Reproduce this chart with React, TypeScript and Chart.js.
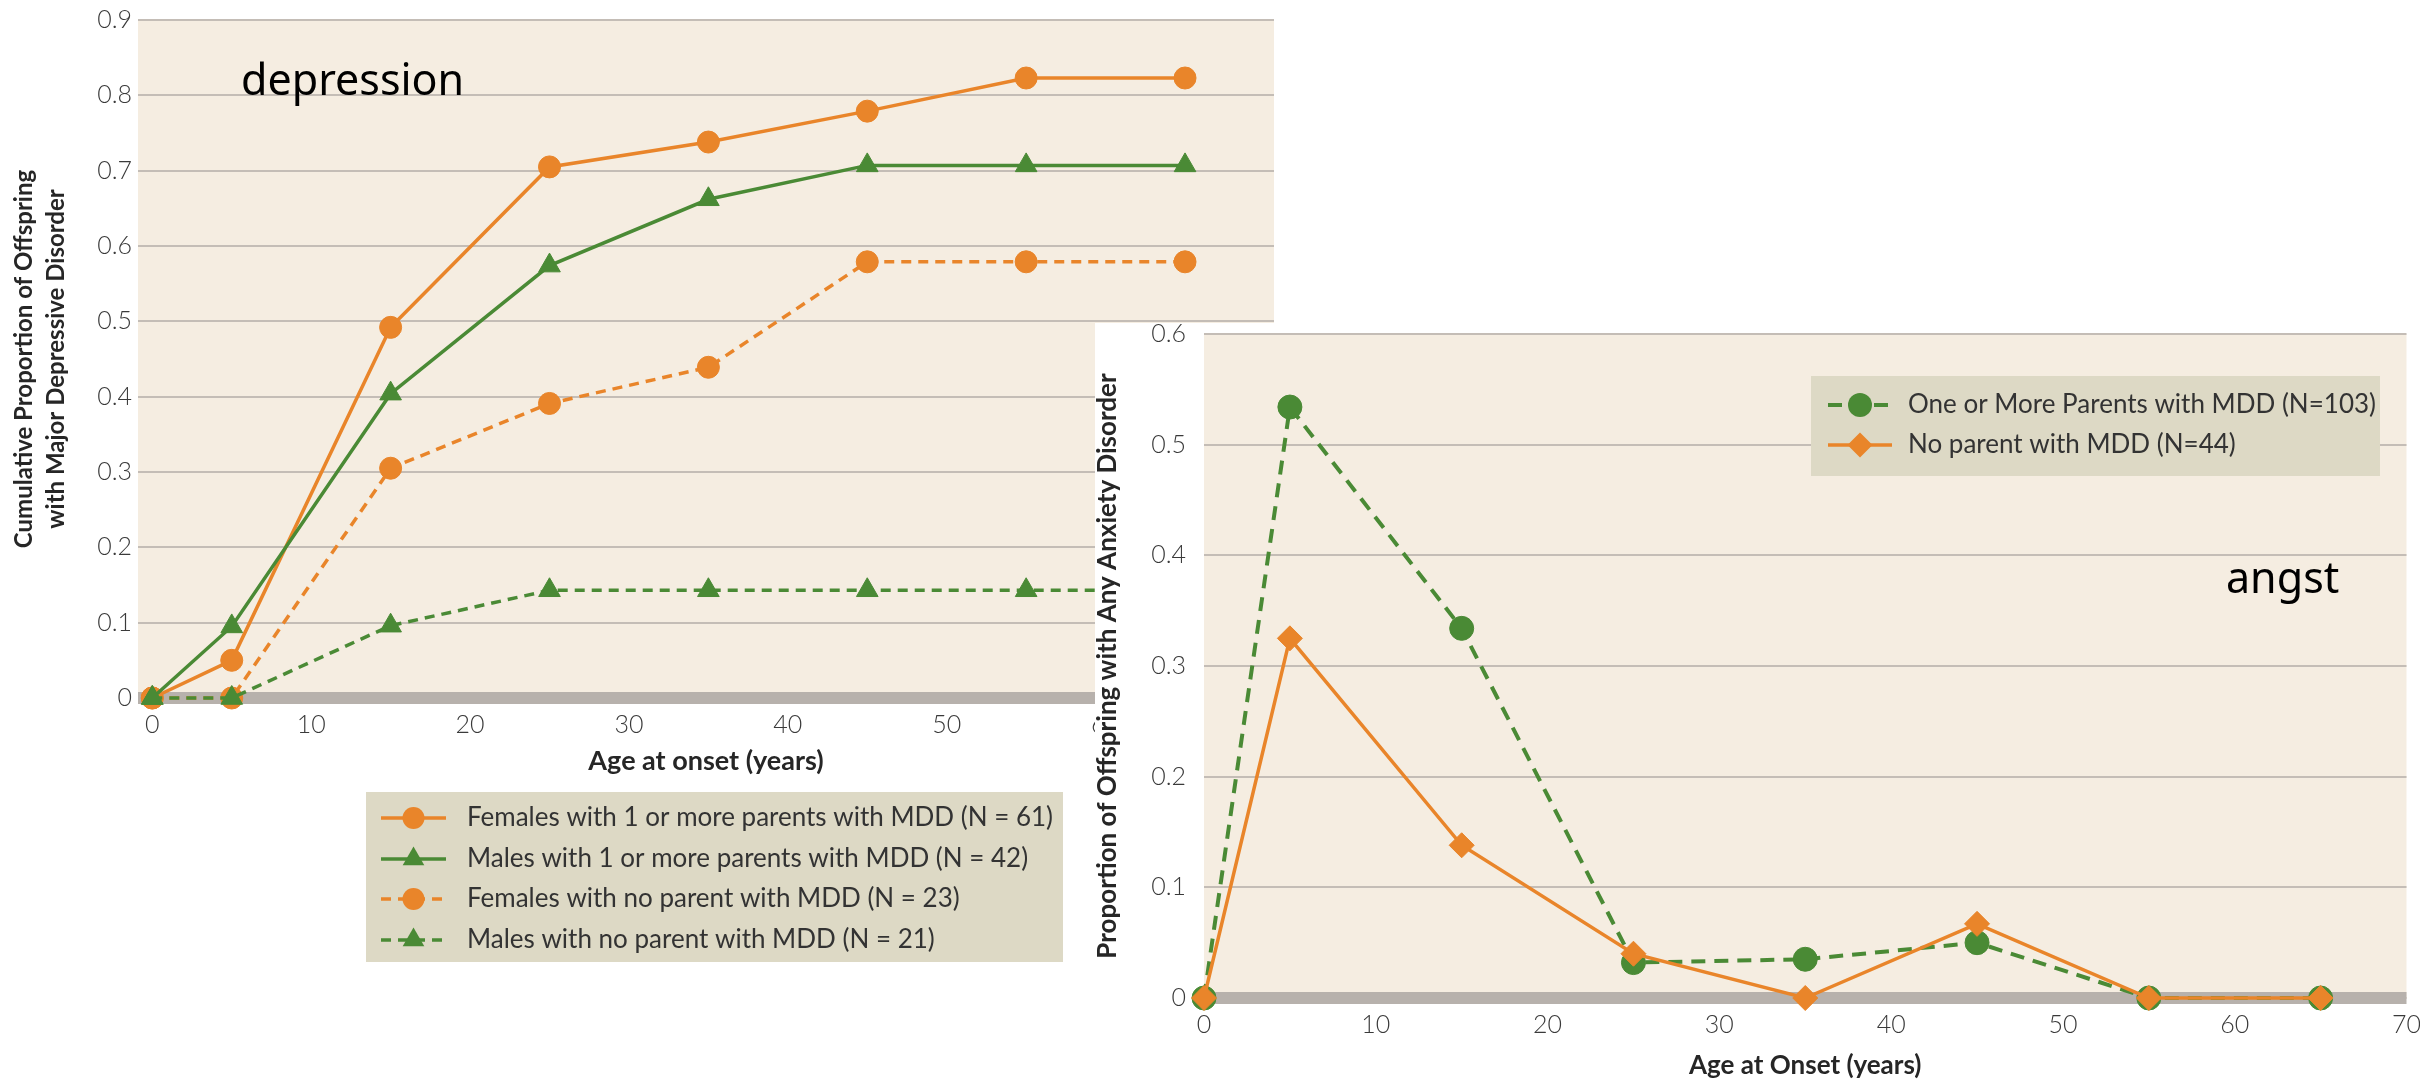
import React, { useEffect, useRef } from 'react';
import { Chart, registerables } from 'chart.js';

Chart.register(...registerables);

// ---------- Left chart data (depression) ----------
const LEFT_AGES = [0, 5, 15, 25, 35, 45, 55, 65];
const FEMALES_PARENT_MDD = [0, 0.05, 0.492, 0.705, 0.738, 0.779, 0.823, 0.823];
const MALES_PARENT_MDD = [0, 0.095, 0.404, 0.574, 0.662, 0.707, 0.707, 0.707];
const FEMALES_NO_PARENT = [0, 0, 0.305, 0.391, 0.439, 0.579, 0.579, 0.579];
const MALES_NO_PARENT = [0, 0, 0.096, 0.143, 0.143, 0.143, 0.143, 0.143];
const LEFT_SERIES_LABELS = [
  'Females with 1 or more parents with MDD (N = 61)',
  'Males with 1 or more parents with MDD (N = 42)',
  'Females with no parent with MDD (N = 23)',
  'Males with no parent with MDD (N = 21)',
];
const LEFT_X_TICKS = [0, 10, 20, 30, 40, 50, 60, 70];
const LEFT_Y_TICKS = [0, 0.1, 0.2, 0.3, 0.4, 0.5, 0.6, 0.7, 0.8, 0.9];
const LEFT_X_TITLE = 'Age at onset (years)';
const LEFT_Y_TITLE = ['Cumulative Proportion of Offspring', 'with Major Depressive Disorder'];
const LEFT_NOTE = 'depression';

// ---------- Right chart data (anxiety) ----------
const RIGHT_AGES = [0, 5, 15, 25, 35, 45, 55, 65];
const ANXIETY_PARENT_MDD = [0, 0.534, 0.334, 0.032, 0.035, 0.05, 0, 0];
const ANXIETY_NO_PARENT = [0, 0.325, 0.138, 0.04, 0, 0.067, 0, 0];
const RIGHT_SERIES_LABELS = ['One or More Parents with MDD (N=103)', 'No parent with MDD (N=44)'];
const RIGHT_X_TICKS = [0, 10, 20, 30, 40, 50, 60, 70];
const RIGHT_Y_TICKS = [0, 0.1, 0.2, 0.3, 0.4, 0.5, 0.6];
const RIGHT_X_TITLE = 'Age at Onset (years)';
const RIGHT_Y_TITLE = 'Proportion of Offspring with Any Anxiety Disorder';
const RIGHT_NOTE = 'angst';

// ---------- styles ----------
const ORANGE = '#E9852A';
const GREEN = '#4A8A35';
const PLOT_BG = '#F5EDE1';
const LEGEND_BG = '#DDD9C5';
const GRID = '#C4BDB6';
const BAND = '#B7B1AC';
const TICK_COLOR = '#3a3a3a';
const TITLE_COLOR = '#262626';

const pts = (xs: number[], ys: number[]) => xs.map((x, i) => ({ x, y: ys[i] }));
const fmt = (v: number) => (v === 0 ? '0' : v.toFixed(1));

function drawMarker(ctx: CanvasRenderingContext2D, style: string, x: number, y: number, r: number) {
  ctx.beginPath();
  if (style === 'triangle') {
    let a = 0;
    ctx.moveTo(x + Math.sin(a) * r, y - Math.cos(a) * r);
    a += (2 * Math.PI) / 3;
    ctx.lineTo(x + Math.sin(a) * r, y - Math.cos(a) * r);
    a += (2 * Math.PI) / 3;
    ctx.lineTo(x + Math.sin(a) * r, y - Math.cos(a) * r);
  } else if (style === 'rectRot') {
    ctx.moveTo(x - r, y);
    ctx.lineTo(x, y - r);
    ctx.lineTo(x + r, y);
    ctx.lineTo(x, y + r);
  } else {
    ctx.arc(x, y, r, 0, Math.PI * 2);
  }
  ctx.closePath();
  ctx.fill();
}

type LegendCfg = {
  x: number; y: number; w: number; h: number;
  rows: number[]; lineX0: number; lineX1: number; textX: number;
  font: string; color: string;
};

function makePlugins(legend: LegendCfg, note: { text: string; x: number; y: number; font: string }) {
  return [
    {
      id: 'plotBackground',
      beforeDraw(chart: any) {
        const { ctx, chartArea: a } = chart;
        ctx.save();
        ctx.fillStyle = PLOT_BG;
        ctx.fillRect(a.left, a.top, a.right - a.left, a.bottom - a.top);
        ctx.restore();
      },
    },
    {
      id: 'zeroBand',
      beforeDatasetsDraw(chart: any) {
        const { ctx, chartArea: a } = chart;
        const y0 = chart.scales.y.getPixelForValue(0);
        ctx.save();
        ctx.fillStyle = BAND;
        ctx.fillRect(a.left, y0 - 6, a.right - a.left, 12);
        ctx.restore();
      },
    },
    {
      id: 'boxLegend',
      afterDraw(chart: any) {
        const ctx: CanvasRenderingContext2D = chart.ctx;
        ctx.save();
        ctx.fillStyle = LEGEND_BG;
        ctx.fillRect(legend.x, legend.y, legend.w, legend.h);
        chart.data.datasets.forEach((ds: any, i: number) => {
          const yy = legend.rows[i];
          ctx.strokeStyle = ds.borderColor;
          ctx.lineWidth = ds.borderWidth;
          ctx.setLineDash(ds.borderDash || []);
          ctx.beginPath();
          ctx.moveTo(legend.lineX0, yy);
          ctx.lineTo(legend.lineX1, yy);
          ctx.stroke();
          ctx.setLineDash([]);
          ctx.fillStyle = ds.pointBackgroundColor;
          drawMarker(ctx, ds.pointStyle, (legend.lineX0 + legend.lineX1) / 2, yy, ds.pointRadius);
          ctx.fillStyle = legend.color;
          ctx.font = legend.font;
          ctx.textAlign = 'left';
          ctx.textBaseline = 'middle';
          ctx.fillText(ds.label, legend.textX, yy);
        });
        ctx.restore();
      },
    },
    {
      id: 'noteText',
      afterDraw(chart: any) {
        const ctx: CanvasRenderingContext2D = chart.ctx;
        ctx.save();
        ctx.fillStyle = '#000';
        ctx.font = note.font;
        ctx.textAlign = 'left';
        ctx.textBaseline = 'alphabetic';
        ctx.fillText(note.text, note.x, note.y);
        ctx.restore();
      },
    },
  ];
}

const tickFont = { family: 'Lato', size: 25, weight: '300' as any };
const leftXTitleFont = { family: 'Lato', size: 27, weight: 'bold' as any, lineHeight: 1.2 };
const rightXTitleFont = { family: 'Lato', size: 26, weight: 'bold' as any, lineHeight: 1.2 };
const leftYTitleFont = { family: 'Lato', size: 24, weight: 'bold' as any, lineHeight: 1.3 };
const rightYTitleFont = { family: 'Lato', size: 26, weight: 'bold' as any, lineHeight: 1.2 };

export default function App() {
  const leftRef = useRef<HTMLCanvasElement>(null);
  const rightRef = useRef<HTMLCanvasElement>(null);

  useEffect(() => {
    document.body.style.margin = '0';
    const line = (label: string, data: number[], xs: number[], color: string, dashed: boolean, style: string, r: number, order: number, dash: number[], width: number) => ({
      label,
      data: pts(xs, data),
      borderColor: color,
      backgroundColor: color,
      borderWidth: width,
      borderDash: dashed ? dash : [],
      pointStyle: style,
      pointRadius: r,
      pointBackgroundColor: color,
      pointBorderColor: color,
      pointBorderWidth: 1,
      tension: 0,
      clip: false,
      order,
    });

    const left = new Chart(leftRef.current!, {
      type: 'line',
      data: {
        datasets: [
          line(LEFT_SERIES_LABELS[0], FEMALES_PARENT_MDD, LEFT_AGES, ORANGE, false, 'circle', 11, 3, [10, 7], 3.5),
          line(LEFT_SERIES_LABELS[1], MALES_PARENT_MDD, LEFT_AGES, GREEN, false, 'triangle', 12.5, 1, [10, 7], 3.5),
          line(LEFT_SERIES_LABELS[2], FEMALES_NO_PARENT, LEFT_AGES, ORANGE, true, 'circle', 11, 2, [10, 7], 3.5),
          line(LEFT_SERIES_LABELS[3], MALES_NO_PARENT, LEFT_AGES, GREEN, true, 'triangle', 12.5, 0, [10, 7], 3.5),
        ] as any,
      },
      options: {
        responsive: false,
        animation: false,
        events: [],
        layout: { padding: { left: 0, right: 16, top: 20, bottom: 225 } },
        plugins: { legend: { display: false }, tooltip: { enabled: false } },
        scales: {
          x: {
            type: 'linear',
            min: -0.9,
            max: 70.6,
            afterBuildTicks: (s: any) => { s.ticks = LEFT_X_TICKS.map((v) => ({ value: v })); },
            afterFit: (s: any) => { s.height = 77; s.paddingLeft = 0; s.paddingRight = 0; },
            grid: { display: false, drawTicks: false },
            border: { display: false },
            ticks: { font: tickFont, color: TICK_COLOR, padding: 12, maxRotation: 0, callback: (v: any) => String(v) },
            title: { display: true, text: LEFT_X_TITLE, font: leftXTitleFont, color: TITLE_COLOR, padding: { top: 0, bottom: -2 } },
          },
          y: {
            type: 'linear',
            min: 0,
            max: 0.9,
            afterBuildTicks: (s: any) => { s.ticks = LEFT_Y_TICKS.map((v) => ({ value: v })); },
            afterFit: (s: any) => { s.width = 138; s.paddingTop = 0; s.paddingBottom = 0; },
            grid: { color: GRID, lineWidth: 2, drawTicks: false },
            border: { display: false },
            ticks: { font: tickFont, color: TICK_COLOR, padding: 6, callback: (v: any) => fmt(Number(v)) },
            title: { display: true, text: LEFT_Y_TITLE, font: leftYTitleFont, color: TITLE_COLOR, padding: { top: 9, bottom: 0 } },
          },
        },
      } as any,
      plugins: makePlugins(
        { x: 366, y: 792, w: 697, h: 170, rows: [818, 859, 899, 940], lineX0: 381, lineX1: 446, textX: 467, font: '400 26px Lato', color: '#333' },
        { text: LEFT_NOTE, x: 241, y: 95, font: '43px "Noto Sans"' },
      ) as any,
    });

    const right = new Chart(rightRef.current!, {
      type: 'line',
      data: {
        datasets: [
          line(RIGHT_SERIES_LABELS[0], ANXIETY_PARENT_MDD, RIGHT_AGES, GREEN, true, 'circle', 12, 1, [14, 9], 4),
          line(RIGHT_SERIES_LABELS[1], ANXIETY_NO_PARENT, RIGHT_AGES, ORANGE, false, 'rectRot', 12.5, 0, [14, 9], 3.5),
        ] as any,
      },
      options: {
        responsive: false,
        animation: false,
        events: [],
        layout: { padding: { left: 0, right: 12, top: 20, bottom: 0 } },
        plugins: { legend: { display: false }, tooltip: { enabled: false } },
        scales: {
          x: {
            type: 'linear',
            min: 0,
            max: 70,
            afterBuildTicks: (s: any) => { s.ticks = RIGHT_X_TICKS.map((v) => ({ value: v })); },
            afterFit: (s: any) => { s.height = 83; s.paddingLeft = 0; s.paddingRight = 0; },
            grid: { display: false, drawTicks: false },
            border: { display: false },
            ticks: { font: tickFont, color: TICK_COLOR, padding: 12, maxRotation: 0, callback: (v: any) => String(v) },
            title: { display: true, text: RIGHT_X_TITLE, font: rightXTitleFont, color: TITLE_COLOR, padding: { top: 0, bottom: 0 } },
          },
          y: {
            type: 'linear',
            min: 0,
            max: 0.6,
            afterBuildTicks: (s: any) => { s.ticks = RIGHT_Y_TICKS.map((v) => ({ value: v })); },
            afterFit: (s: any) => { s.width = 111; s.paddingTop = 0; s.paddingBottom = 0; },
            grid: { color: GRID, lineWidth: 2, drawTicks: false },
            border: { display: false },
            ticks: { font: tickFont, color: TICK_COLOR, padding: 18, callback: (v: any) => fmt(Number(v)) },
            title: { display: true, text: RIGHT_Y_TITLE, font: rightYTitleFont, color: TITLE_COLOR, padding: { top: -1, bottom: 0 } },
          },
        },
      } as any,
      plugins: makePlugins(
        { x: 718, y: 62, w: 569, h: 100, rows: [91, 131], lineX0: 735, lineX1: 799, textX: 815, font: '400 26px Lato', color: '#333' },
        { text: RIGHT_NOTE, x: 1133, y: 279, font: '43px "Noto Sans"' },
      ) as any,
    });

    return () => {
      left.destroy();
      right.destroy();
    };
  }, []);

  return (
    <div style={{ position: 'absolute', left: 0, top: 0, width: 2420, height: 1081, overflow: 'hidden', background: '#fff' }}>
      <canvas ref={leftRef} width={1290} height={1000} style={{ position: 'absolute', left: 0, top: 0, width: 1290, height: 1000 }} />
      <div style={{ position: 'absolute', left: 1095, top: 323, width: 1325, height: 758, background: '#fff' }} />
      <canvas ref={rightRef} width={1327} height={767} style={{ position: 'absolute', left: 1093, top: 314, width: 1327, height: 767 }} />
    </div>
  );
}
